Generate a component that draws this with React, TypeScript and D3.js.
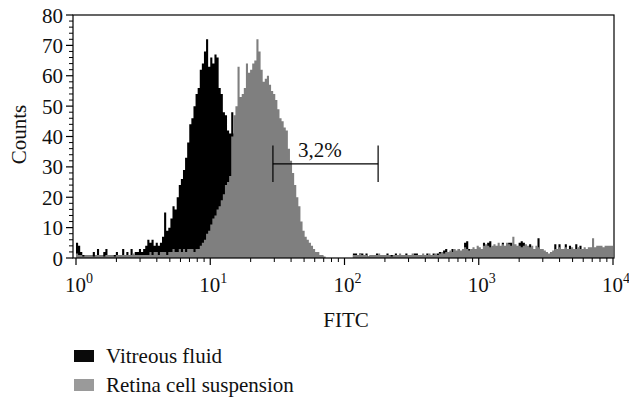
import React from "react";
import * as d3 from "d3";

// Histogram channels: 64 per decade over 10^0 .. 10^4 (256 channels)
const channelsPerDecade = 64;

const vitreousFluid: number[] = [
  5, 4, 2, 1, 1, 1, 1, 1, 2, 1, 3, 1, 1, 2, 3, 1,
  1, 1, 1, 2, 1, 1, 3, 1, 2, 1, 3, 1, 2, 2, 3, 2,
  3, 4, 6, 5, 6, 4, 5, 4, 5, 7, 15, 9, 10, 13, 17, 16,
  20, 24, 26, 29, 33, 38, 44, 46, 50, 54, 56, 62, 64, 68, 72, 63,
  66, 64, 67, 66, 56, 54, 48, 47, 42, 41, 48, 41, 38, 34, 30, 26,
  22, 18, 15, 12, 9, 7, 5, 4, 3, 2, 1, 1, 1, 1, 1, 1,
  1, 1, 1, 1, 1, 1, 1, 1, 1, 1, 1, 1, 1, 1, 1, 1,
  1, 1, 1, 1, 0.5, 0.5, 0, 0, 0, 0, 0, 0, 0, 0, 0, 0,
  0, 0, 0, 0, 1.5, 1.5, 1, 1.5, 1.5, 1, 1.5, 0.5, 1, 0.5, 1, 1.5,
  1, 1, 0.5, 1, 1.5, 1, 1, 1, 1.5, 1, 0.5, 1, 1, 1.5, 1, 1,
  1, 1.5, 1.5, 1, 1, 1, 1, 1.5, 1, 1, 1.5, 1, 1.5, 2, 1.5, 2.5,
  3, 2, 2, 3, 2, 2, 3, 2, 2, 5, 5.5, 3, 2, 2, 3, 2,
  3, 2, 5, 3, 5, 5.5, 3, 3, 2, 3, 3, 5, 3, 2, 5, 5,
  3, 3, 3, 5, 5.5, 5, 3, 3, 4.5, 3, 2, 2, 6.5, 3, 2, 2,
  2, 1, 2, 2, 4.5, 2, 4.5, 3, 2, 4.5, 2, 4, 2, 2, 4.5, 2,
  4, 2, 2, 2, 2, 2, 3, 2, 2, 3, 2, 2, 3, 2, 2, 3,
];

const retinaCellSuspension: number[] = [
  1.5, 1, 1, 0.5, 1, 1, 1, 1, 0.5, 1, 1, 1, 1, 0.5, 1, 1,
  1, 1, 0.5, 1, 1, 1, 1, 1, 1, 1, 1, 1.5, 1, 1, 1, 1,
  1, 1, 1, 2, 1, 2, 2, 1, 2, 2, 2, 1, 2, 2, 3, 2,
  2, 3, 2, 3, 2, 3, 3, 3, 2, 3, 3, 4, 5, 6, 8, 9,
  11, 13, 14, 16, 17, 19, 21, 24, 25, 27, 40, 47, 50, 63, 53, 54,
  56, 64, 61, 62, 64, 65, 72, 68, 62, 58, 59, 60, 57, 55, 54, 52,
  49, 46, 45, 43, 42, 36, 32, 28, 24, 20, 17, 12, 9, 7, 6, 5,
  4, 3, 2, 2, 1, 1, 0.5, 0, 0, 0, 0, 0, 0, 0, 0, 0,
  0, 0, 0, 0, 1, 1, 1, 1.5, 1, 1, 1, 0.5, 1, 1, 1, 1,
  1.5, 1, 1, 1, 1, 1, 0.5, 1, 1, 1, 1.5, 1, 1, 1, 1, 1,
  1.5, 1, 1, 1, 1, 1.5, 1, 1, 1.5, 1, 1, 1.5, 1, 1.5, 2, 1.5,
  2, 2, 2.5, 2, 3, 2.5, 3, 2.5, 3, 3.5, 3, 2.5, 3, 3.5, 3, 4,
  3.5, 3, 4, 4.5, 4, 3.5, 4, 4.5, 4, 5, 4, 4.5, 4, 5, 4.5, 4,
  7, 4.5, 4, 4, 3.5, 4, 4.5, 4, 3.5, 4, 3, 4, 3.5, 3, 3, 2.5,
  2, 1.5, 2, 2.5, 3, 3, 3.5, 3, 3, 3.5, 3, 3, 3.5, 3, 3, 3.5,
  3, 3, 3.5, 3, 3.5, 3.5, 6.5, 3.5, 4, 4, 4, 3.5, 4, 4, 4, 4,
];

const xTickExponents = [0, 1, 2, 3, 4];
const yTicks = [0, 10, 20, 30, 40, 50, 60, 70, 80];
const yMinorStep = 2;

const gateRange = [29.3, 178];
const gateCount = 31;
const gateHalfHeight = 6;
const gateLabel = "3,2%";

const legendLabels = ["Vitreous fluid", "Retina cell suspension"];
const legendColors = ["#0a0a0a", "#9a9a9a"];
const seriesColors = ["#000000", "#7f7f7f"];

const W = 629;
const H = 402;
const FONT = "Liberation Serif, DejaVu Serif, serif";
const txt = { fontFamily: FONT, fill: "#111" } as React.CSSProperties;

function toBins(values: number[]) {
  const pts = values.map((v, i) => ({ lo: Math.pow(10, i / channelsPerDecade), v }));
  pts.push({ lo: Math.pow(10, values.length / channelsPerDecade), v: values[values.length - 1] });
  return pts;
}

export default function App() {
  const left = 73, right = 614, top = 15, bottom = 258;
  const x = d3.scaleLog().domain([1, 1e4]).range([76, 613]);
  const y = d3.scaleLinear().domain([0, 80]).range([bottom, top]);

  const area = d3
    .area<{ lo: number; v: number }>()
    .x((d) => x(d.lo))
    .y0(y(0))
    .y1((d) => y(d.v))
    .curve(d3.curveStepAfter);

  const minorX: number[] = [];
  for (let e = 0; e < 4; e++) for (let m = 2; m <= 9; m++) minorX.push(m * Math.pow(10, e));
  const minorY = d3.range(0, 80 + 0.001, yMinorStep).filter((v) => v % 10 !== 0);

  const series = [vitreousFluid, retinaCellSuspension];

  return (
    <svg
      width={W}
      height={H}
      style={{ position: "absolute", left: 0, top: 0, background: "#fff" }}
    >
      <defs>
        <clipPath id="plot">
          <rect x={left} y={top} width={right - left} height={bottom - top} />
        </clipPath>
      </defs>
      <g clipPath="url(#plot)">
        {series.map((s, i) => (
          <path key={i} d={area(toBins(s)) || ""} fill={seriesColors[i]} stroke="none" />
        ))}
      </g>
      {/* frame */}
      <rect x={left} y={top} width={right - left} height={bottom - top} fill="none" stroke="#000" strokeWidth={1.2} />
      {/* y ticks */}
      {yTicks.map((t) => (
        <g key={t}>
          <line x1={left - 7} x2={left} y1={y(t)} y2={y(t)} stroke="#000" strokeWidth={1.2} />
          <text x={left - 10} y={y(t)} dy="0.36em" textAnchor="end" fontSize={21} style={txt}>
            {t}
          </text>
        </g>
      ))}
      {minorY.map((t) => (
        <line key={"m" + t} x1={left - 4} x2={left} y1={y(t)} y2={y(t)} stroke="#000" strokeWidth={1} />
      ))}
      {/* x ticks */}
      {xTickExponents.map((e) => {
        const px = x(Math.pow(10, e));
        return (
          <g key={e}>
            <line x1={px} x2={px} y1={bottom} y2={bottom + 7} stroke="#000" strokeWidth={1.2} />
            <text x={px + 3} y={bottom + 34} textAnchor="middle" fontSize={21} style={txt}>
              10
              <tspan fontSize={14} dy={-9}>
                {e}
              </tspan>
            </text>
          </g>
        );
      })}
      {minorX.map((v) => (
        <line key={"mx" + v} x1={x(v)} x2={x(v)} y1={bottom} y2={bottom + 4} stroke="#000" strokeWidth={1} />
      ))}
      {/* axis titles */}
      <text x={346} y={327} textAnchor="middle" fontSize={21} style={txt}>
        FITC
      </text>
      <text transform={`translate(26, ${(top + bottom) / 2 - 2}) rotate(-90)`} textAnchor="middle" fontSize={21} style={txt}>
        Counts
      </text>
      {/* gate marker */}
      <g stroke="#000" strokeWidth={1.2}>
        <line x1={x(gateRange[0])} x2={x(gateRange[0])} y1={y(gateCount + gateHalfHeight)} y2={y(gateCount - gateHalfHeight)} />
        <line x1={x(gateRange[1])} x2={x(gateRange[1])} y1={y(gateCount + gateHalfHeight)} y2={y(gateCount - gateHalfHeight)} />
        <line x1={x(gateRange[0])} x2={x(gateRange[1])} y1={y(gateCount)} y2={y(gateCount)} />
      </g>
      <text x={x(gateRange[0]) + 25} y={y(gateCount) - 7} fontSize={21} style={txt}>
        {gateLabel}
      </text>
      {/* legend */}
      {legendLabels.map((l, i) => (
        <g key={l} transform={`translate(74, ${350 + i * 29})`}>
          <rect x={0} y={0} width={20} height={12} fill={legendColors[i]} />
          <text x={32} y={13} fontSize={21} style={txt}>
            {l}
          </text>
        </g>
      ))}
    </svg>
  );
}
